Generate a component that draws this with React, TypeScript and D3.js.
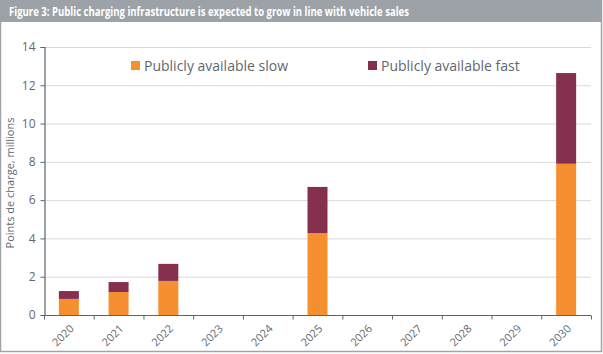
import { useEffect, useRef } from 'react';
import * as d3 from 'd3';

const years = ['2020', '2021', '2022', '2023', '2024', '2025', '2026', '2027', '2028', '2029', '2030'];
const slowValues = [0.84, 1.2, 1.78, 0, 0, 4.28, 0, 0, 0, 0, 7.9];
const fastValues = [0.41, 0.52, 0.89, 0, 0, 2.41, 0, 0, 0, 0, 4.74];
const yTicks = [0, 2, 4, 6, 8, 10, 12, 14];
const seriesNames = ['Publicly available slow', 'Publicly available fast'];
const seriesColors = ['#f68f2f', '#85304f'];

const W = 603;
const H = 354;
const FONT = '"Open Sans", "Liberation Sans", sans-serif';

export default function App() {
  const ref = useRef<SVGSVGElement>(null);

  useEffect(() => {
    const el = ref.current;
    if (!el) return;
    const svg = d3.select(el);
    svg.selectAll('*').remove();

    const margin = { top: 47, right: 12, bottom: 39, left: 44 };

    // frame + title bar
    svg.append('rect').attr('x', 0.5).attr('y', 0.5).attr('width', W - 2).attr('height', H - 3)
      .attr('fill', '#fff').attr('stroke', '#9ea4aa').attr('stroke-width', 1.5);
    svg.append('rect').attr('x', 0).attr('y', 0).attr('width', W - 1).attr('height', 22).attr('fill', '#9ca2a8');
    svg.append('text').attr('x', 9).attr('y', 16).attr('fill', '#fff')
      .attr('font-family', FONT).attr('font-weight', 700).attr('font-size', 12)
      .attr('textLength', 400).attr('lengthAdjust', 'spacingAndGlyphs')
      .text('Figure 3: Public charging infrastructure is expected to grow in line with vehicle sales');

    const x = d3.scaleBand<string>().domain(years).range([margin.left, W - margin.right]).paddingInner(0).paddingOuter(0);
    const y = d3.scaleLinear().domain([0, 14]).range([H - margin.bottom, margin.top]);
    const barW = 20;

    // gridlines
    svg.append('g').selectAll('line').data(yTicks.filter((t) => t > 0)).join('line')
      .attr('x1', margin.left).attr('x2', W - margin.right)
      .attr('y1', (d) => y(d) + 0.5).attr('y2', (d) => y(d) + 0.5)
      .attr('stroke', '#d9d9d9').attr('stroke-width', 1);

    // stacked bars
    const rows = years.map((yr, i) => ({ year: yr, slow: slowValues[i], fast: fastValues[i] }));
    const stack = d3.stack<{ year: string; slow: number; fast: number }>().keys(['slow', 'fast'])(rows);
    stack.forEach((layer, li) => {
      svg.append('g').selectAll('rect').data(layer).join('rect')
        .attr('x', (d) => (x(d.data.year) ?? 0) + x.bandwidth() / 2 - barW / 2)
        .attr('width', barW)
        .attr('y', (d) => y(d[1]))
        .attr('height', (d) => Math.max(0, y(d[0]) - y(d[1])))
        .attr('fill', seriesColors[li]);
    });

    const axisColor = '#5b646c';
    // y axis
    const ya = svg.append('g').attr('transform', `translate(${margin.left + 0.5},0)`)
      .call(d3.axisLeft(y).tickValues(yTicks).tickSize(4).tickPadding(5).tickFormat(d3.format('d')));
    ya.select('.domain').attr('stroke', axisColor).attr('stroke-width', 1.2);
    ya.selectAll('.tick line').attr('stroke', axisColor);
    ya.selectAll('text').attr('fill', '#5f6770').attr('font-size', 12).attr('font-family', FONT);

    // x axis (ticks at category boundaries)
    const base = y(0) + 0.5;
    const xg = svg.append('g');
    xg.append('line').attr('x1', margin.left).attr('x2', W - margin.right).attr('y1', base).attr('y2', base)
      .attr('stroke', axisColor).attr('stroke-width', 1.2);
    const bounds = years.map((yr) => x(yr) ?? 0).concat([W - margin.right]);
    xg.selectAll('line.tk').data(bounds).join('line').attr('class', 'tk')
      .attr('x1', (d) => d + 0.5).attr('x2', (d) => d + 0.5).attr('y1', base).attr('y2', base + 4)
      .attr('stroke', axisColor);
    xg.selectAll('text').data(years).join('text')
      .attr('transform', (d) => `translate(${(x(d) ?? 0) + x.bandwidth() / 2 + 3},${base + 11}) rotate(-45)`)
      .attr('text-anchor', 'end').attr('dy', '0.35em')
      .attr('fill', '#5f6770').attr('font-size', 11).attr('font-family', FONT)
      .text((d) => d);

    // y label
    svg.append('text').attr('transform', `translate(14,${(y(0) + y(14)) / 2 + 2}) rotate(-90)`)
      .attr('text-anchor', 'middle').attr('fill', '#5f6770').attr('font-size', 11).attr('font-family', FONT)
      .text('Points de charge, millions');

    // legend
    const legendX = [131, 368];
    seriesNames.forEach((name, i) => {
      svg.append('rect').attr('x', legendX[i]).attr('y', 61).attr('width', 9).attr('height', 9).attr('fill', seriesColors[i]);
      svg.append('text').attr('x', legendX[i] + 13).attr('y', 70.5).attr('fill', '#5f6770')
        .attr('font-size', 14).attr('font-family', FONT).text(name);
    });
  }, []);

  return (
    <svg ref={ref} width={W} height={H} style={{ position: 'absolute', left: 0, top: 0 }} />
  );
}
